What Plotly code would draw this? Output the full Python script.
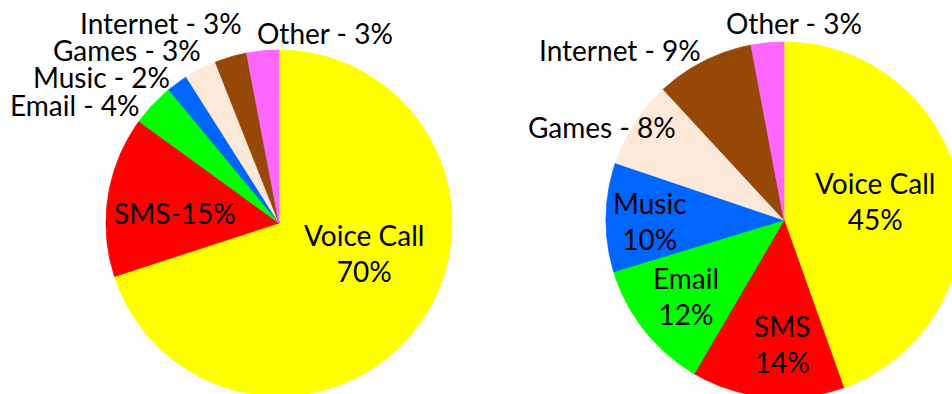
import numpy as np
import plotly.graph_objects as go

# Usage categories (clockwise from 12 o'clock)
categories = ["Voice Call", "SMS", "Email", "Music", "Games", "Internet", "Other"]
values_left = [70, 15, 4, 2, 3, 3, 3]
values_right = [45, 14, 12, 10, 8, 9, 3]
colors = ["#FFFF00", "#FF0000", "#00FF00", "#0066FF", "#FDE9D9", "#974806", "#FF66FF"]

# Label text templates per slice
fmt_left = ["{c}<br>{v}%", "{c}-{v}%", "{c} - {v}%", "{c} - {v}%", "{c} - {v}%", "{c} - {v}%", "{c} - {v}%"]
fmt_right = ["{c}<br>{v}%", "{c}<br>{v}%", "{c}<br>{v}%", "{c}<br>{v}%", "{c} - {v}%", "{c} - {v}%", "{c} - {v}%"]

# Canvas in pixel units (y grows downward)
W, H = 952, 394
pies = [
    dict(cx=279, cy=223, r=173, values=values_left, fmt=fmt_left,
         label_xy=[(364, 253), (175, 213), (74, 105), (101, 77), (127, 50), (161, 23), (325, 33)]),
    dict(cx=784, cy=220, r=178, values=values_right, fmt=fmt_right,
         label_xy=[(875, 201), (782, 344), (686, 296), (650, 221), (602, 127), (620, 50), (794, 23)]),
]

FONT = "Lato, 'Open Sans', sans-serif"
fig = go.Figure()
annotations = []

for pie in pies:
    vals = np.asarray(pie["values"], dtype=float)
    frac = vals / vals.sum()
    bounds = np.concatenate([[0.0], np.cumsum(frac)]) * 360.0
    for i, cat in enumerate(categories):
        a0, a1 = bounds[i], bounds[i + 1]
        n = max(int((a1 - a0) / 0.5), 2)
        ang = np.radians(np.linspace(a0, a1, n))
        xs = np.concatenate([[pie["cx"]], pie["cx"] + pie["r"] * np.sin(ang), [pie["cx"]]])
        ys = np.concatenate([[pie["cy"]], pie["cy"] - pie["r"] * np.cos(ang), [pie["cy"]]])
        fig.add_trace(go.Scatter(
            x=xs, y=ys, mode="lines", fill="toself",
            fillcolor=colors[i], line=dict(color=colors[i], width=0.8),
            hoverinfo="text", text=f"{cat}: {pie['values'][i]}%", showlegend=False,
        ))
    for i, cat in enumerate(categories):
        lx, ly = pie["label_xy"][i]
        annotations.append(dict(
            x=lx, y=ly, xref="x", yref="y", showarrow=False,
            text=pie["fmt"][i].format(c=cat, v=pie["values"][i]),
            font=dict(family=FONT, size=28, color="#000000"),
            xanchor="center", yanchor="middle", align="center",
        ))

fig.update_layout(
    width=W, height=H,
    margin=dict(l=0, r=0, t=0, b=0),
    paper_bgcolor="white", plot_bgcolor="white",
    xaxis=dict(range=[0, W], visible=False, fixedrange=True),
    yaxis=dict(range=[H, 0], visible=False, fixedrange=True),
    annotations=annotations,
)

fig.write_html("out.html")
